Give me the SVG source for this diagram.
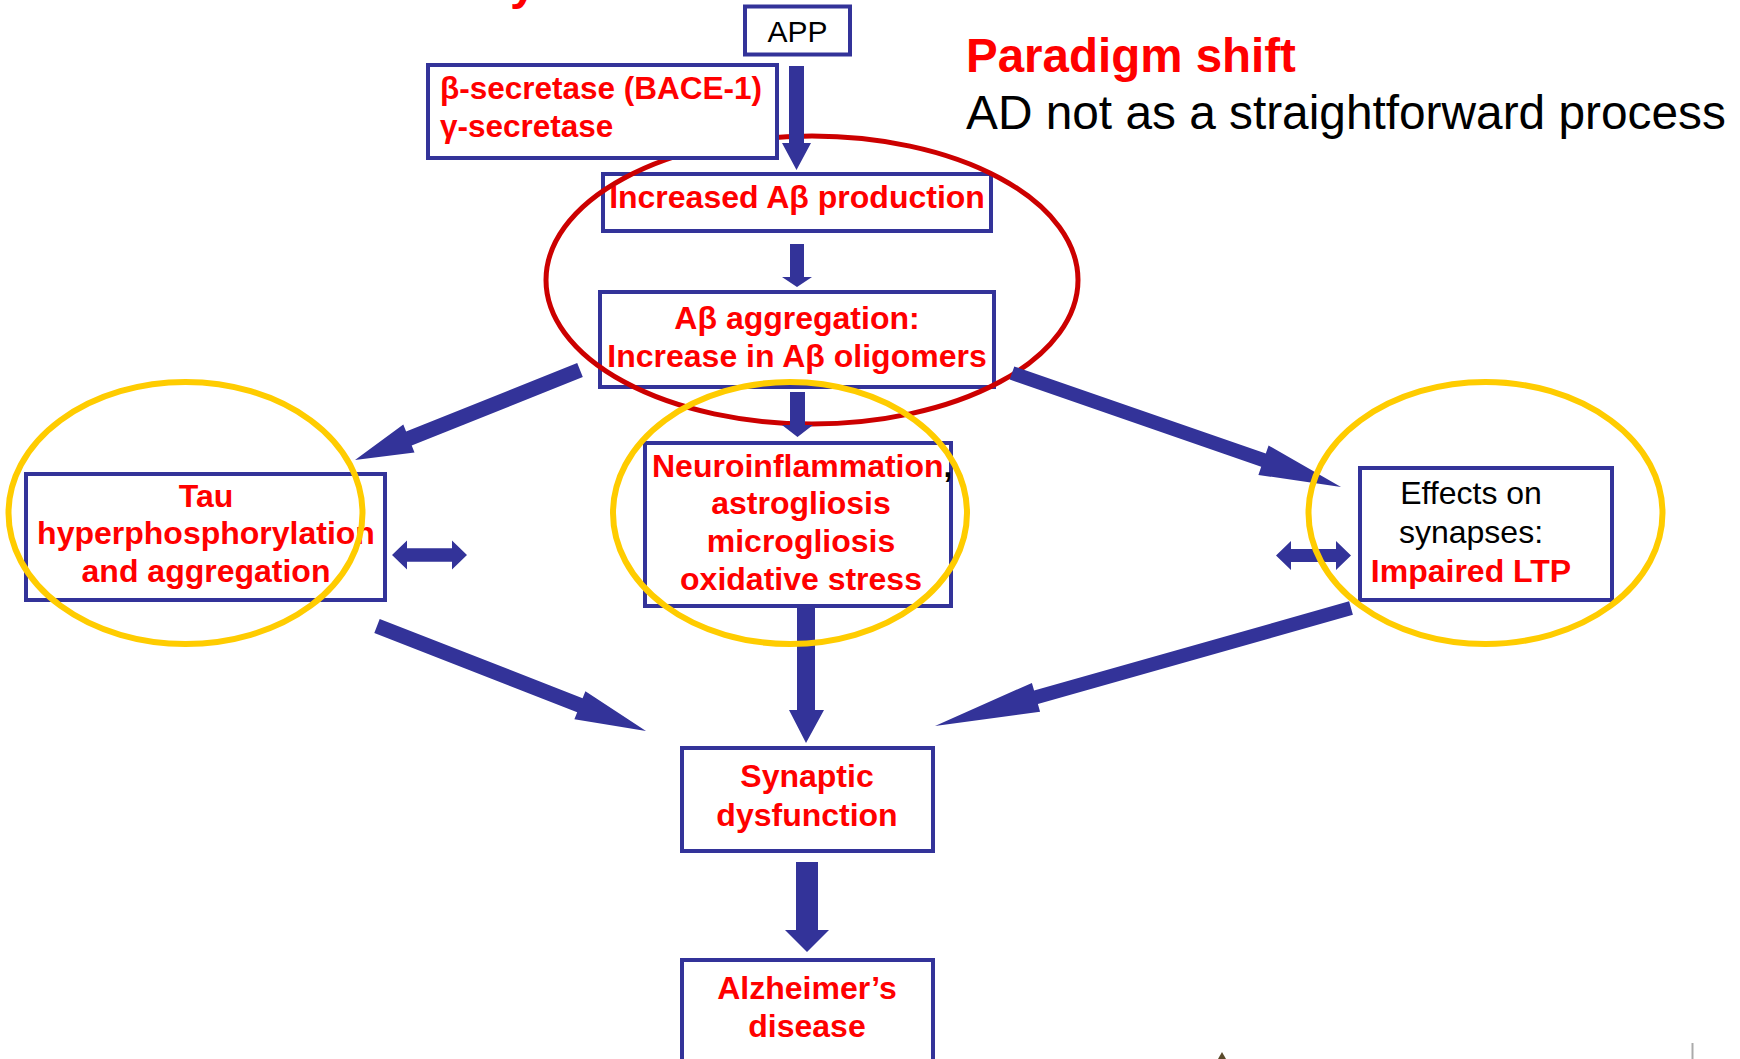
<svg xmlns="http://www.w3.org/2000/svg" width="1740" height="1059" viewBox="0 0 1740 1059">
<style>
.box{fill:#fff;stroke:#333399;stroke-width:4}
.t{font-family:"Liberation Sans",Arial,sans-serif;font-weight:bold;font-size:32px;fill:#FF0000;text-anchor:middle}
.k{font-family:"Liberation Sans",Arial,sans-serif;font-size:32px;fill:#000;text-anchor:middle}
.arr{fill:#333399}
.hlr{fill:none;stroke:#CC0000;stroke-width:5}
.hly{fill:none;stroke:#FFCC00;stroke-width:6}
</style>
<rect width="1740" height="1059" fill="#fff"/>
<g id="title">
<text x="510" y="-1" class="t" style="font-size:48px;text-anchor:start">y</text>
<text x="966" y="72" class="t" style="font-size:47.5px;text-anchor:start">Paradigm shift</text>
<text x="966" y="129" class="k" style="font-size:47.8px;text-anchor:start">AD not as a straightforward process</text>
</g>
<g id="node-increased">
<rect class="box" x="603" y="174" width="388" height="57"/>
<text class="t" x="797" y="208">Increased Aβ production</text>
</g>
<g id="node-aggregation">
<rect class="box" x="600" y="292" width="394" height="95"/>
<text class="t" x="797" y="329">Aβ aggregation:</text>
<text class="t" x="797" y="367">Increase in Aβ oligomers</text>
</g>
<g id="highlight-red">
<ellipse class="hlr" cx="812" cy="280" rx="266" ry="144"/>
</g>
<g id="node-secretase">
<rect class="box" x="428" y="65" width="349" height="93"/>
<text class="t" x="440" y="99" style="font-size:31.5px;text-anchor:start">β-secretase (BACE-1)</text>
<text class="t" x="440" y="137" style="font-size:31.5px;text-anchor:start">γ-secretase</text>
</g>
<g id="node-app">
<rect class="box" x="745" y="6.5" width="105" height="48"/>
<text class="k" x="797.5" y="42" style="font-size:30px">APP</text>
</g>
<g id="node-tau">
<rect class="box" x="26" y="474" width="359" height="126"/>
<text class="t" x="206" y="507">Tau</text>
<text class="t" x="206" y="544">hyperphosphorylation</text>
<text class="t" x="206" y="582">and aggregation</text>
</g>
<g id="node-neuro">
<rect class="box" x="645" y="443" width="306" height="163"/>
<text class="t" x="652" y="477" style="text-anchor:start">Neuroinflammation<tspan fill="#000">,</tspan></text>
<text class="t" x="801" y="514">astrogliosis</text>
<text class="t" x="801" y="552">microgliosis</text>
<text class="t" x="801" y="590">oxidative stress</text>
</g>
<g id="node-effects">
<rect class="box" x="1360" y="468" width="252" height="132"/>
<text class="k" x="1471" y="504">Effects on</text>
<text class="k" x="1471" y="543">synapses:</text>
<text class="t" x="1471" y="582">Impaired LTP</text>
</g>
<g id="node-synaptic">
<rect class="box" x="682" y="748" width="251" height="103"/>
<text class="t" x="807" y="787">Synaptic</text>
<text class="t" x="807" y="826">dysfunction</text>
</g>
<g id="node-alzheimer">
<rect class="box" x="682" y="960" width="251" height="130"/>
<text class="t" x="807" y="999">Alzheimer’s</text>
<text class="t" x="807" y="1037">disease</text>
</g>
<g id="connectors" class="arr">
<polygon points="789,66 804,66 804,143 811,143 796.5,170 782,143 789,143"/>
<polygon points="790,244 804,244 804,277 812,277 797,287 782,277 790,277"/>
<polygon points="790,392 805,392 805,425 813,425 797.5,437 782,425 790,425"/>
<polygon points="797,608 815,608 815,710 824,710 806,743 789,710 797,710"/>
<polygon points="796,862 818,862 818,930 829,930 807,952 785,930 796,930"/>
<polygon points="577.2,363 406.1,431.5 403.3,424.6 355,460 414.5,452.4 411.7,445.5 582.8,377"/>
<polygon points="1014.3,366.4 1265.8,453.6 1268.6,445.5 1341,487 1258.4,474.9 1261.2,466.8 1009.7,379.6"/>
<polygon points="379.7,619 582.6,698.2 585.4,691.2 646,731 574.4,719.2 577.2,712.2 374.3,633"/>
<polygon points="1349.1,601.3 1034.1,690.6 1031.9,682.9 935,726 1040.1,711.7 1037.9,704 1352.9,614.7"/>
<polygon points="392,555 407,540.5 407,548.3 452,548.3 452,540.5 467,555 452,569.5 452,561.7 407,561.7 407,569.5"/>
<polygon points="1276,555.5 1291,541 1291,549 1336,549 1336,541 1351,555.5 1336,570 1336,562 1291,562 1291,570"/>
</g>
<g id="highlights-yellow">
<ellipse class="hly" cx="185.5" cy="513" rx="177" ry="131"/>
<ellipse class="hly" cx="790" cy="513" rx="177" ry="131"/>
<ellipse class="hly" cx="1485.5" cy="513" rx="177" ry="131"/>
</g>
<g id="fragments">
<line x1="1692.5" y1="1043" x2="1692.5" y2="1059" stroke="#aaaaaa" stroke-width="2"/>
<polygon points="1222,1052 1218,1059 1226,1059" fill="#5a4a2a"/>
</g>
</svg>
